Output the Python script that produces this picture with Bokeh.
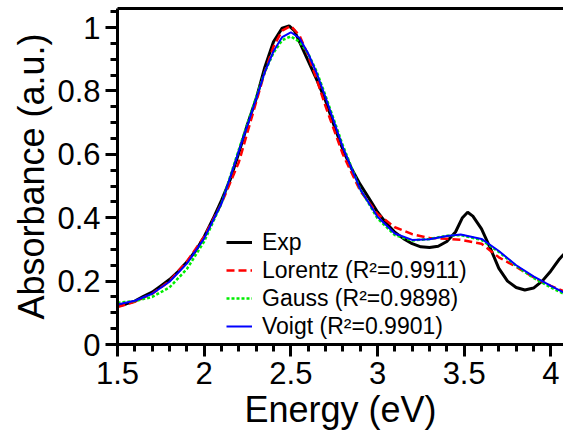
from bokeh.plotting import figure
from bokeh.models import (Range1d, SingleIntervalTicker, LinearAxis, FixedTicker,
                          CustomJSTickFormatter, Legend, LegendItem)
from bokeh.embed import file_html
from bokeh.resources import INLINE

# Experimental absorbance spectrum
exp_energy = [1.50, 1.55, 1.60, 1.65, 1.70, 1.75, 1.80, 1.85, 1.90, 1.95,
              2.00, 2.05, 2.10, 2.15, 2.20, 2.25, 2.30, 2.35, 2.40, 2.45,
              2.49, 2.52, 2.55, 2.60, 2.65, 2.70, 2.75, 2.80, 2.85, 2.90,
              2.95, 3.00, 3.05, 3.10, 3.15, 3.20, 3.25, 3.30, 3.35, 3.40,
              3.45, 3.49, 3.52, 3.55, 3.60, 3.65, 3.70, 3.75, 3.80, 3.85,
              3.90, 3.95, 4.00, 4.05, 4.075]
exp_abs = [0.122, 0.128, 0.137, 0.152, 0.165, 0.185, 0.205, 0.230, 0.260, 0.295,
           0.340, 0.395, 0.455, 0.520, 0.605, 0.695, 0.775, 0.875, 0.955, 0.998,
           1.005, 0.990, 0.955, 0.895, 0.835, 0.770, 0.690, 0.615, 0.555, 0.505,
           0.462, 0.418, 0.383, 0.354, 0.334, 0.318, 0.308, 0.306, 0.310, 0.325,
           0.355, 0.400, 0.417, 0.405, 0.365, 0.305, 0.240, 0.200, 0.180, 0.172,
           0.178, 0.200, 0.232, 0.270, 0.285]

# Fitted line shapes
fit_energy = [1.50, 1.60, 1.70, 1.80, 1.90, 2.00, 2.10, 2.20, 2.30, 2.35,
              2.40, 2.45, 2.50, 2.55, 2.60, 2.65, 2.70, 2.80, 2.90, 3.00,
              3.10, 3.20, 3.30, 3.40, 3.48, 3.60, 3.70, 3.80, 3.90, 4.00, 4.075]
lorentz_abs = [0.118, 0.135, 0.160, 0.200, 0.262, 0.340, 0.445, 0.575, 0.765, 0.860,
               0.940, 0.990, 1.005, 0.975, 0.912, 0.835, 0.752, 0.600, 0.485, 0.412,
               0.370, 0.348, 0.336, 0.334, 0.330, 0.318, 0.275, 0.245, 0.212, 0.185, 0.168]
gauss_abs = [0.132, 0.137, 0.150, 0.180, 0.238, 0.325, 0.445, 0.615, 0.780, 0.860,
             0.920, 0.960, 0.972, 0.955, 0.918, 0.860, 0.785, 0.628, 0.490, 0.398,
             0.345, 0.328, 0.333, 0.343, 0.345, 0.330, 0.292, 0.248, 0.210, 0.180, 0.160]
voigt_abs = [0.126, 0.138, 0.160, 0.198, 0.255, 0.335, 0.445, 0.610, 0.775, 0.860,
             0.925, 0.970, 0.985, 0.967, 0.918, 0.855, 0.780, 0.622, 0.490, 0.403,
             0.350, 0.330, 0.332, 0.342, 0.347, 0.333, 0.295, 0.250, 0.215, 0.185, 0.164]

legend_labels = ["Exp", "Lorentz (R\u00b2=0.9911)", "Gauss (R\u00b2=0.9898)", "Voigt (R\u00b2=0.9901)"]

FONT = "Liberation Sans"

p = figure(width=563, height=433, output_backend="svg", toolbar_location=None,
           x_range=Range1d(1.5, 4.073), y_range=Range1d(0, 1.06),
           min_border_left=117, min_border_right=0, min_border_top=8, min_border_bottom=89,
           x_axis_label="Energy (eV)", y_axis_label="Absorbance (a.u.)")
p.outline_line_color = None
p.grid.visible = False
p.background_fill_color = "white"
p.border_fill_color = "white"

fmt = CustomJSTickFormatter(code="return parseFloat(tick.toFixed(2)).toString();")

p.xaxis.ticker = SingleIntervalTicker(interval=0.5, num_minor_ticks=5)
p.yaxis.ticker = SingleIntervalTicker(interval=0.2, num_minor_ticks=4)
for ax in (p.xaxis[0], p.yaxis[0]):
    ax.formatter = fmt
    ax.axis_line_width = 3
    ax.major_tick_line_width = 3
    ax.minor_tick_line_width = 3
    ax.major_tick_in = 0
    ax.major_tick_out = 12
    ax.minor_tick_in = 0
    ax.minor_tick_out = 7
    ax.major_label_text_font = FONT
    ax.major_label_text_font_size = "31px"
    ax.major_label_text_color = "black"
    ax.axis_label_text_font = FONT
    ax.axis_label_text_font_size = "36px"
    ax.axis_label_text_font_style = "normal"
    ax.axis_label_text_color = "black"
    ax.major_label_standoff = 5
p.yaxis.axis_label_standoff = 2
p.xaxis.axis_label_standoff = 2

# Top frame line
top = LinearAxis(ticker=FixedTicker(ticks=[]), axis_line_width=3,
                 major_tick_out=0, minor_tick_out=0, major_label_text_font_size="0px")
p.add_layout(top, "above")

r_exp = p.line(exp_energy, exp_abs, line_color="black", line_width=3)
r_lor = p.line(fit_energy, lorentz_abs, line_color="#ff0000", line_width=2.5, line_dash="8 4")
r_gau = p.line(fit_energy, gauss_abs, line_color="#00ee00", line_width=2.5, line_dash="3 2")
r_voi = p.line(fit_energy, voigt_abs, line_color="#0000ff", line_width=2)

legend = Legend(items=[LegendItem(label=lab, renderers=[r]) for lab, r in
                       zip(legend_labels, [r_exp, r_lor, r_gau, r_voi])],
                location=(109, 4), orientation="vertical",
                glyph_width=26, glyph_height=28, label_height=28, label_standoff=10,
                spacing=0, padding=0, margin=0,
                border_line_color=None, background_fill_alpha=0,
                label_text_font=FONT, label_text_font_size="23px", label_text_color="black")
p.add_layout(legend, "center")

open("out.html", "w").write(file_html(p, INLINE))
